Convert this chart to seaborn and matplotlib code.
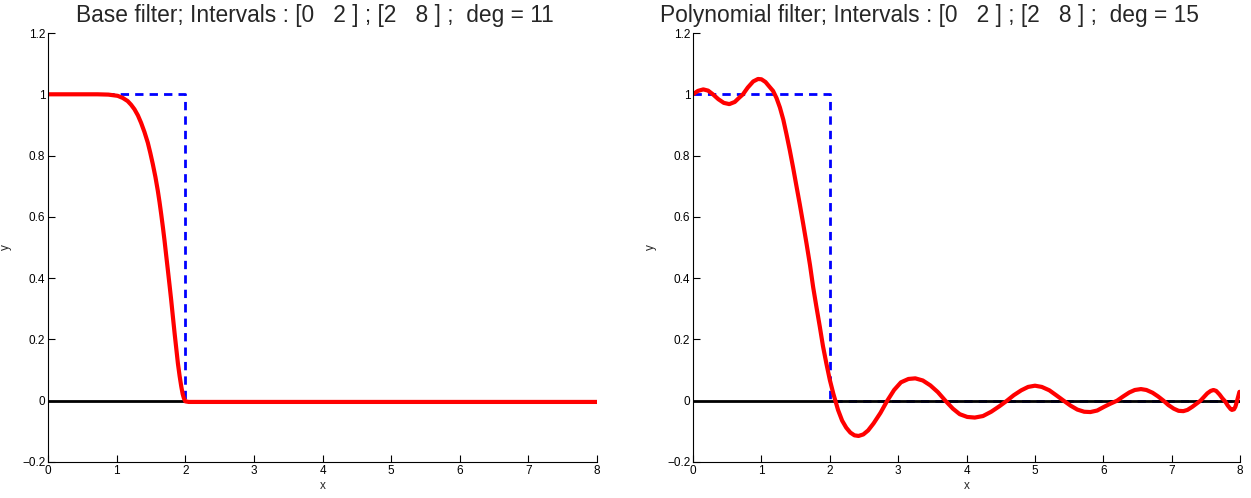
import numpy as np
import pandas as pd
import matplotlib
matplotlib.use("Agg")
import matplotlib.pyplot as plt
import seaborn as sns

sns.set_theme(style="ticks")
plt.rcParams["font.family"] = ["Liberation Sans", "DejaVu Sans"]

# ideal filter (blue dashed) and zero line
ideal_x = [0, 2, 2, 8]
ideal_y = [1, 1, 0, 0]
zero_x = [0, 8]
zero_y = [0, 0]

# base filter, deg = 11
base_x = [0.0, 0.5, 0.72, 0.88, 1.015, 1.09, 1.16, 1.21, 1.26, 1.31, 1.356, 1.405,
          1.454, 1.49, 1.527, 1.565, 1.60, 1.625, 1.649, 1.674, 1.698, 1.722, 1.747,
          1.771, 1.795, 1.82, 1.845, 1.87, 1.893, 1.918, 1.942, 1.962, 1.98, 2.0,
          2.05, 5.0, 8.0]
base_y = [1.0, 1.0, 1.0, 0.999, 0.995, 0.988, 0.978, 0.966, 0.951, 0.931, 0.907, 0.877,
          0.842, 0.809, 0.772, 0.730, 0.685, 0.648, 0.609, 0.566, 0.522, 0.474, 0.425,
          0.377, 0.328, 0.273, 0.219, 0.168, 0.121, 0.080, 0.046, 0.022, 0.008, -0.002,
          -0.004, -0.004, -0.004]

# polynomial filter, deg = 15
poly_x = [0.0, 0.07, 0.15, 0.22, 0.29, 0.37, 0.45, 0.53, 0.61, 0.68, 0.73, 0.80,
          0.88, 0.95, 1.0, 1.06, 1.12, 1.17, 1.22, 1.27, 1.32, 1.366, 1.415, 1.463,
          1.51, 1.56, 1.61, 1.66, 1.71, 1.756, 1.805, 1.854, 1.90, 1.95, 2.00, 2.05,
          2.12, 2.18, 2.24, 2.30, 2.36, 2.42, 2.49, 2.56, 2.64, 2.74, 2.84, 2.94,
          3.04, 3.15, 3.25, 3.36, 3.47, 3.58, 3.69, 3.80, 3.90, 4.01, 4.12, 4.24,
          4.36, 4.48, 4.59, 4.69, 4.80, 4.90, 5.0, 5.10, 5.21, 5.31, 5.42, 5.52,
          5.62, 5.72, 5.81, 5.91, 6.01, 6.10, 6.20, 6.29, 6.38, 6.46, 6.55, 6.63,
          6.72, 6.80, 6.88, 6.95, 7.03, 7.10, 7.17, 7.23, 7.30, 7.36, 7.42, 7.47,
          7.52, 7.57, 7.61, 7.65, 7.70, 7.74, 7.78, 7.82, 7.86, 7.88, 7.91, 7.93,
          7.95, 7.97, 7.99]
poly_y = [1.0, 1.011, 1.016, 1.012, 1.0, 0.984, 0.972, 0.968, 0.975, 0.990, 1.0, 1.022,
          1.042, 1.050, 1.049, 1.040, 1.024, 1.011, 0.988, 0.957, 0.917, 0.870, 0.817, 0.761,
          0.703, 0.642, 0.578, 0.512, 0.443, 0.371, 0.305, 0.241, 0.178, 0.121, 0.068, 0.024,
          -0.030, -0.065, -0.088, -0.104, -0.113, -0.115, -0.110, -0.097, -0.074, -0.040, 0.0, 0.035,
          0.060, 0.071, 0.073, 0.066, 0.050, 0.028, 0.0, -0.026, -0.044, -0.053, -0.055, -0.050,
          -0.036, -0.018, 0.0, 0.018, 0.034, 0.045, 0.049, 0.045, 0.034, 0.018, 0.0, -0.016,
          -0.029, -0.036, -0.037, -0.032, -0.020, -0.010, 0.0, 0.014, 0.027, 0.035, 0.038, 0.035,
          0.026, 0.014, 0.0, -0.014, -0.026, -0.033, -0.034, -0.030, -0.020, -0.010, 0.0, 0.012,
          0.024, 0.032, 0.035, 0.032, 0.020, 0.008, -0.002, -0.016, -0.027, -0.030, -0.028, -0.020,
          -0.005, 0.012, 0.029]

panels = [
    ("Base filter; Intervals : [0   2 ] ; [2   8 ] ;  deg = 11", base_x, base_y, 0.486),
    ("Polynomial filter; Intervals : [0   2 ] ; [2   8 ] ;  deg = 15", poly_x, poly_y, 0.433),
]
positions = [[0.0384, 0.0723, 0.4388, 0.8614], [0.554, 0.0723, 0.4373, 0.8614]]

fig = plt.figure(figsize=(12.51, 4.98), dpi=100)

for (title, cx, cy, tx), pos in zip(panels, positions):
    ax = fig.add_axes(pos)
    sns.lineplot(x=ideal_x, y=ideal_y, ax=ax, color="blue", lw=2,
                 linestyle=(0, (3, 2.2)), sort=False, estimator=None)
    sns.lineplot(x=zero_x, y=zero_y, ax=ax, color="black", lw=2,
                 sort=False, estimator=None)
    sns.lineplot(x=cx, y=cy, ax=ax, color="red", lw=3,
                 sort=False, estimator=None)
    ax.set_xlim(0, 8)
    ax.set_ylim(-0.2, 1.2)
    ax.set_xticks(range(0, 9))
    ax.set_yticks([-0.2, 0, 0.2, 0.4, 0.6, 0.8, 1, 1.2])
    ax.set_yticklabels(["\u22120.2", "0", "0.2", "0.4", "0.6", "0.8", "1", "1.2"])
    ax.tick_params(direction="in", length=5, width=0.8, labelsize=8.5, pad=2,
                   colors="black")
    sns.despine(ax=ax)
    for s in ["left", "bottom"]:
        ax.spines[s].set_color("black")
        ax.spines[s].set_linewidth(0.8)
    ax.set_xlabel("x", fontsize=8.5, labelpad=2)
    ax.set_ylabel("y", fontsize=8.5, labelpad=7)
    ax.set_title(title, fontsize=16.4, x=tx, pad=8)

fig.savefig("out.png", dpi=100)
